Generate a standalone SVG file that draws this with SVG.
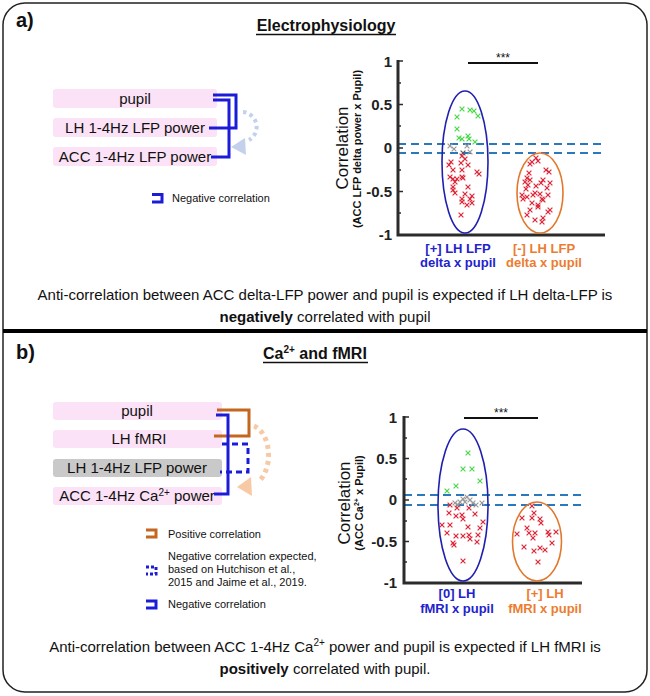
<svg xmlns="http://www.w3.org/2000/svg" xmlns:xlink="http://www.w3.org/1999/xlink" width="650" height="696" viewBox="0 0 650 696">
<style>
text{font-family:"Liberation Sans",Arial,sans-serif;fill:#111}
.node{font-size:15px;text-anchor:middle}
.b{font-weight:bold}
.pink{fill:#fbe2f6}
.gray{fill:#c9c9c9}
.brk{fill:none;stroke:#1c1cd8;stroke-width:3}
.brko{fill:none;stroke:#c4661f;stroke-width:3}
.dsh{stroke-dasharray:6,4}
.axis{stroke:#2b2b2b;stroke-width:3;fill:none}
.tick{stroke:#2b2b2b;stroke-width:1.5}
.tl{font-size:15px;font-weight:bold;text-anchor:end;fill:#222}
.zl{stroke:#2b78bd;stroke-width:1.8;stroke-dasharray:8,5}
.eb{fill:none;stroke:#2020b0;stroke-width:1.6}
.eo{fill:none;stroke:#e3772b;stroke-width:1.6}
.mg{stroke:#4cd84c;stroke-width:1.2}
.mk{stroke:#9a9a9a;stroke-width:1.2}
.mr{stroke:#dd2a3a;stroke-width:1.2}
.xb{font-size:13px;font-weight:bold;text-anchor:middle;fill:#2323cc}
.xo{font-size:13px;font-weight:bold;text-anchor:middle;fill:#ec7c30}
.leg{font-size:11px}
.cap{font-size:15px;text-anchor:middle}
</style>
<defs>
<path id="x" d="M-2.4,-2.4L2.4,2.4M-2.4,2.4L2.4,-2.4"/>
</defs>

<rect x="3" y="3" width="644" height="689" rx="22" fill="#fff" stroke="#222" stroke-width="1.5"/>
<line x1="3" y1="331" x2="647" y2="331" stroke="#000" stroke-width="4"/>

<!-- Panel a -->
<g id="panel-a-header">
<text x="16" y="27" font-size="20" class="b">a)</text>
<text x="326" y="31" font-size="16" class="b" text-anchor="middle">Electrophysiology</text>
<line x1="256" y1="34.5" x2="396" y2="34.5" stroke="#111" stroke-width="1.3"/>
</g>
<g id="a-pupil"><rect x="53" y="89" width="164" height="19" rx="3" class="pink"/><text x="135" y="104" class="node">pupil</text></g>
<g id="a-lh"><rect x="53" y="118" width="164" height="19" rx="3" class="pink"/><text x="135" y="133" class="node">LH 1-4Hz LFP power</text></g>
<g id="a-acc"><rect x="53" y="147" width="164" height="19" rx="3" class="pink"/><text x="135" y="162" class="node">ACC 1-4Hz LFP power</text></g>
<g id="a-connectors">
<path class="brk" d="M213,95H236V128H209"/>
<path class="brk" d="M213,100H229V157H211"/>
<path d="M243,112A15,15 0 0 1 249,140" fill="none" stroke="#c3d1ec" stroke-width="4" stroke-dasharray="3.5,3.5"/>
<polygon points="231,147 245,138 246,155" fill="#c3d1ec"/>
</g>
<g id="a-legend">
<path class="brk" stroke-width="2.5" d="M152,194.5H162V202H152"/>
<text x="172" y="202" font-size="11">Negative correlation</text>
</g>

<g id="a-plot">
<line class="zl" x1="398" y1="144" x2="605" y2="144"/>
<line class="zl" x1="398" y1="153" x2="605" y2="153"/>
<path class="axis" d="M398,60V235H605"/>
<g class="tick">
<line x1="398" y1="61" x2="403" y2="61"/><line x1="398" y1="83" x2="401" y2="83"/>
<line x1="398" y1="104.5" x2="403" y2="104.5"/><line x1="398" y1="126" x2="401" y2="126"/>
<line x1="398" y1="148" x2="403" y2="148"/><line x1="398" y1="170" x2="401" y2="170"/>
<line x1="398" y1="191.5" x2="403" y2="191.5"/><line x1="398" y1="213" x2="401" y2="213"/>
</g>
<text class="tl" x="392" y="67">1</text>
<text class="tl" x="392" y="110">0.5</text>
<text class="tl" x="392" y="153">0</text>
<text class="tl" x="392" y="197">-0.5</text>
<text class="tl" x="392" y="240">-1</text>
<text transform="translate(348,148) rotate(-90)" font-size="17" text-anchor="middle">Correlation</text>
<text transform="translate(361,149) rotate(-90)" font-size="11" class="b" text-anchor="middle">(ACC LFP delta power x Pupil)</text>
<line x1="468" y1="63" x2="538" y2="63" stroke="#111" stroke-width="2"/>
<text x="503" y="62" font-size="12" text-anchor="middle">***</text>
<ellipse class="eb" cx="465" cy="162" rx="23" ry="71"/>
<ellipse class="eo" cx="540" cy="193" rx="23" ry="40"/>
<g class="mg">
<use xlink:href="#x" x="462" y="109"/><use xlink:href="#x" x="470" y="110"/><use xlink:href="#x" x="474" y="111"/><use xlink:href="#x" x="478" y="116"/><use xlink:href="#x" x="457" y="117"/><use xlink:href="#x" x="457" y="129"/><use xlink:href="#x" x="459" y="138"/><use xlink:href="#x" x="462" y="139"/><use xlink:href="#x" x="468" y="136"/><use xlink:href="#x" x="469" y="139"/><use xlink:href="#x" x="475" y="142"/>
</g>
<g class="mk">
<use xlink:href="#x" x="450" y="146"/><use xlink:href="#x" x="454" y="149"/><use xlink:href="#x" x="467" y="146"/><use xlink:href="#x" x="463" y="153" style="stroke:#556"/><use xlink:href="#x" x="470" y="152"/>
</g>
<g class="mr">
<use xlink:href="#x" x="451" y="162"/><use xlink:href="#x" x="462" y="156"/><use xlink:href="#x" x="465" y="159"/><use xlink:href="#x" x="461" y="163"/><use xlink:href="#x" x="468" y="165"/><use xlink:href="#x" x="449" y="165"/><use xlink:href="#x" x="453" y="170"/><use xlink:href="#x" x="462" y="170"/><use xlink:href="#x" x="477" y="172"/><use xlink:href="#x" x="479" y="174"/><use xlink:href="#x" x="450" y="177"/><use xlink:href="#x" x="453" y="179"/><use xlink:href="#x" x="457" y="179"/><use xlink:href="#x" x="462" y="177"/><use xlink:href="#x" x="463" y="178"/><use xlink:href="#x" x="453" y="187"/><use xlink:href="#x" x="468" y="187"/><use xlink:href="#x" x="465" y="194"/><use xlink:href="#x" x="472" y="196"/><use xlink:href="#x" x="455" y="193"/><use xlink:href="#x" x="470" y="199"/><use xlink:href="#x" x="462" y="199"/><use xlink:href="#x" x="461" y="215"/><use xlink:href="#x" x="455" y="182"/><use xlink:href="#x" x="453" y="190"/><use xlink:href="#x" x="467" y="205"/><use xlink:href="#x" x="472" y="203"/><use xlink:href="#x" x="462" y="202"/>
<use xlink:href="#x" x="536" y="158"/><use xlink:href="#x" x="538" y="161"/><use xlink:href="#x" x="532" y="162"/><use xlink:href="#x" x="530" y="164"/><use xlink:href="#x" x="546" y="170"/><use xlink:href="#x" x="549" y="172"/><use xlink:href="#x" x="529" y="173"/><use xlink:href="#x" x="527" y="178"/><use xlink:href="#x" x="530" y="180"/><use xlink:href="#x" x="525" y="182"/><use xlink:href="#x" x="543" y="180"/><use xlink:href="#x" x="550" y="183"/><use xlink:href="#x" x="541" y="183"/><use xlink:href="#x" x="528" y="185"/><use xlink:href="#x" x="536" y="186"/><use xlink:href="#x" x="526" y="189"/><use xlink:href="#x" x="547" y="188"/><use xlink:href="#x" x="522" y="195"/><use xlink:href="#x" x="527" y="197"/><use xlink:href="#x" x="533" y="195"/><use xlink:href="#x" x="535" y="193"/><use xlink:href="#x" x="540" y="194"/><use xlink:href="#x" x="548" y="195"/><use xlink:href="#x" x="542" y="199"/><use xlink:href="#x" x="543" y="200"/><use xlink:href="#x" x="523" y="199"/><use xlink:href="#x" x="532" y="203"/><use xlink:href="#x" x="538" y="207"/><use xlink:href="#x" x="550" y="210"/><use xlink:href="#x" x="538" y="205"/><use xlink:href="#x" x="548" y="212"/><use xlink:href="#x" x="535" y="220"/><use xlink:href="#x" x="543" y="218"/><use xlink:href="#x" x="542" y="222"/><use xlink:href="#x" x="527" y="215"/><use xlink:href="#x" x="530" y="210"/>
</g>
<text class="xb" x="458" y="253">[+] LH LFP</text>
<text class="xb" x="458" y="267">delta x pupil</text>
<text class="xo" x="544" y="253">[-] LH LFP</text>
<text class="xo" x="544" y="267">delta x pupil</text>
</g>
<g id="a-caption">
<text class="cap" x="325" y="300">Anti-correlation between ACC delta-LFP power and pupil is expected if LH delta-LFP is</text>
<text class="cap" x="325" y="322"><tspan font-weight="bold">negatively</tspan> correlated with pupil</text>
</g>

<!-- Panel b -->
<g id="panel-b-header">
<text x="16" y="359" font-size="20" class="b">b)</text>
<text x="263" y="359" font-size="16" class="b">Ca<tspan font-size="10" dy="-6">2+</tspan><tspan dy="6"> and fMRI</tspan></text>
<line x1="263" y1="362.5" x2="368" y2="362.5" stroke="#111" stroke-width="1.3"/>
</g>
<g id="b-pupil"><rect x="53" y="402" width="169" height="18" rx="3" class="pink"/><text x="137" y="416" class="node">pupil</text></g>
<g id="b-lhfmri"><rect x="53" y="430" width="169" height="18" rx="3" class="pink"/><text x="139" y="444" class="node">LH fMRI</text></g>
<g id="b-lhlfp"><rect x="53" y="459" width="169" height="18" rx="3" class="gray"/><text x="137" y="473" class="node">LH 1-4Hz LFP power</text></g>
<g id="b-acc"><rect x="53" y="487" width="169" height="18" rx="3" class="pink"/><text x="137" y="501" class="node">ACC 1-4Hz Ca<tspan font-size="10" dy="-5">2+</tspan><tspan dy="5"> power</tspan></text></g>
<g id="b-connectors">
<path class="brko" d="M217,410H249V436H214"/>
<path class="brk" d="M216,415H228V494H214"/>
<path class="brk dsh" d="M222,444H248V472H220"/>
<path d="M254,426A19,30 0 0 1 258,482" fill="none" stroke="#f7c9a5" stroke-width="5" stroke-dasharray="4,4"/>
<polygon points="237,487 251,477 252,496" fill="#f7c9a5"/>
</g>
<g id="b-legend">
<path class="brko" stroke-width="2.5" d="M146,530H156V537H146"/>
<text x="168" y="538" class="leg">Positive correlation</text>
<path class="brk" stroke-width="2.5" stroke-dasharray="3,2" d="M146,567H156V574H146"/>
<text x="168" y="560" class="leg">Negative correlation expected,</text>
<text x="168" y="573" class="leg">based on Hutchison et al.,</text>
<text x="168" y="586" class="leg">2015 and Jaime et al., 2019.</text>
<path class="brk" stroke-width="2.5" d="M146,601H156V608H146"/>
<text x="168" y="608" class="leg">Negative correlation</text>
</g>

<g id="b-plot">
<line class="zl" x1="404" y1="495" x2="582" y2="495"/>
<line class="zl" x1="404" y1="505" x2="582" y2="505"/>
<path class="axis" d="M404,416V583H582"/>
<g class="tick">
<line x1="404" y1="417" x2="409" y2="417"/><line x1="404" y1="438" x2="407" y2="438"/>
<line x1="404" y1="458.5" x2="409" y2="458.5"/><line x1="404" y1="479" x2="407" y2="479"/>
<line x1="404" y1="500" x2="409" y2="500"/><line x1="404" y1="521" x2="407" y2="521"/>
<line x1="404" y1="541.5" x2="409" y2="541.5"/><line x1="404" y1="562" x2="407" y2="562"/>
</g>
<text class="tl" x="397" y="423">1</text>
<text class="tl" x="397" y="464">0.5</text>
<text class="tl" x="397" y="505">0</text>
<text class="tl" x="397" y="547">-0.5</text>
<text class="tl" x="397" y="588">-1</text>
<text transform="translate(350,503) rotate(-90)" font-size="17" text-anchor="middle">Correlation</text>
<text transform="translate(363,503) rotate(-90)" font-size="11" class="b" text-anchor="middle">(ACC Ca<tspan font-size="7" dy="-4">2+</tspan><tspan dy="4"> x Pupil)</tspan></text>
<line x1="464" y1="418" x2="538" y2="418" stroke="#111" stroke-width="2"/>
<text x="501" y="417" font-size="12" text-anchor="middle">***</text>
<ellipse class="eb" cx="463" cy="505" rx="25" ry="76"/>
<ellipse class="eo" cx="537" cy="541.5" rx="24.5" ry="39.5"/>
<g class="mg">
<use xlink:href="#x" x="468" y="453"/><use xlink:href="#x" x="463" y="469"/><use xlink:href="#x" x="472" y="469"/><use xlink:href="#x" x="480" y="481"/><use xlink:href="#x" x="456" y="486"/><use xlink:href="#x" x="447" y="491"/>
</g>
<g class="mk">
<use xlink:href="#x" x="455" y="503"/><use xlink:href="#x" x="460" y="502"/><use xlink:href="#x" x="463" y="499"/><use xlink:href="#x" x="467" y="497"/><use xlink:href="#x" x="470" y="500"/><use xlink:href="#x" x="473" y="503"/><use xlink:href="#x" x="482" y="503"/><use xlink:href="#x" x="458" y="505"/><use xlink:href="#x" x="465" y="502"/><use xlink:href="#x" x="476" y="505"/>
</g>
<g class="mr">
<use xlink:href="#x" x="450" y="505"/><use xlink:href="#x" x="457" y="508"/><use xlink:href="#x" x="469" y="508"/><use xlink:href="#x" x="449" y="513"/><use xlink:href="#x" x="456" y="516"/><use xlink:href="#x" x="462" y="515"/><use xlink:href="#x" x="463" y="519"/><use xlink:href="#x" x="475" y="514"/><use xlink:href="#x" x="483" y="522"/><use xlink:href="#x" x="442" y="525"/><use xlink:href="#x" x="450" y="525"/><use xlink:href="#x" x="468" y="527"/><use xlink:href="#x" x="480" y="528"/><use xlink:href="#x" x="447" y="533"/><use xlink:href="#x" x="478" y="535"/><use xlink:href="#x" x="456" y="536"/><use xlink:href="#x" x="463" y="536"/><use xlink:href="#x" x="469" y="535"/><use xlink:href="#x" x="470" y="539"/><use xlink:href="#x" x="477" y="542"/><use xlink:href="#x" x="453" y="543"/><use xlink:href="#x" x="454" y="545"/><use xlink:href="#x" x="463" y="561"/>
<use xlink:href="#x" x="532" y="506"/><use xlink:href="#x" x="522" y="518"/><use xlink:href="#x" x="532" y="518"/><use xlink:href="#x" x="534" y="513"/><use xlink:href="#x" x="540" y="519"/><use xlink:href="#x" x="541" y="523"/><use xlink:href="#x" x="527" y="528"/><use xlink:href="#x" x="529" y="533"/><use xlink:href="#x" x="535" y="533"/><use xlink:href="#x" x="517" y="534"/><use xlink:href="#x" x="533" y="538"/><use xlink:href="#x" x="548" y="532"/><use xlink:href="#x" x="549" y="535"/><use xlink:href="#x" x="556" y="532"/><use xlink:href="#x" x="552" y="543"/><use xlink:href="#x" x="524" y="547"/><use xlink:href="#x" x="534" y="551"/><use xlink:href="#x" x="540" y="548"/><use xlink:href="#x" x="545" y="550"/><use xlink:href="#x" x="538" y="562"/>
</g>
<text class="xb" x="457" y="598">[0] LH</text>
<text class="xb" x="457" y="613">fMRI x pupil</text>
<text class="xo" x="545" y="598">[+] LH</text>
<text class="xo" x="545" y="613">fMRI x pupil</text>
</g>
<g id="b-caption">
<text class="cap" x="325" y="652">Anti-correlation between ACC 1-4Hz Ca<tspan font-size="10" dy="-6">2+</tspan><tspan dy="6"> power and pupil is expected if LH fMRI is</tspan></text>
<text class="cap" x="325" y="674"><tspan font-weight="bold">positively</tspan> correlated with pupil.</text>
</g>
</svg>
